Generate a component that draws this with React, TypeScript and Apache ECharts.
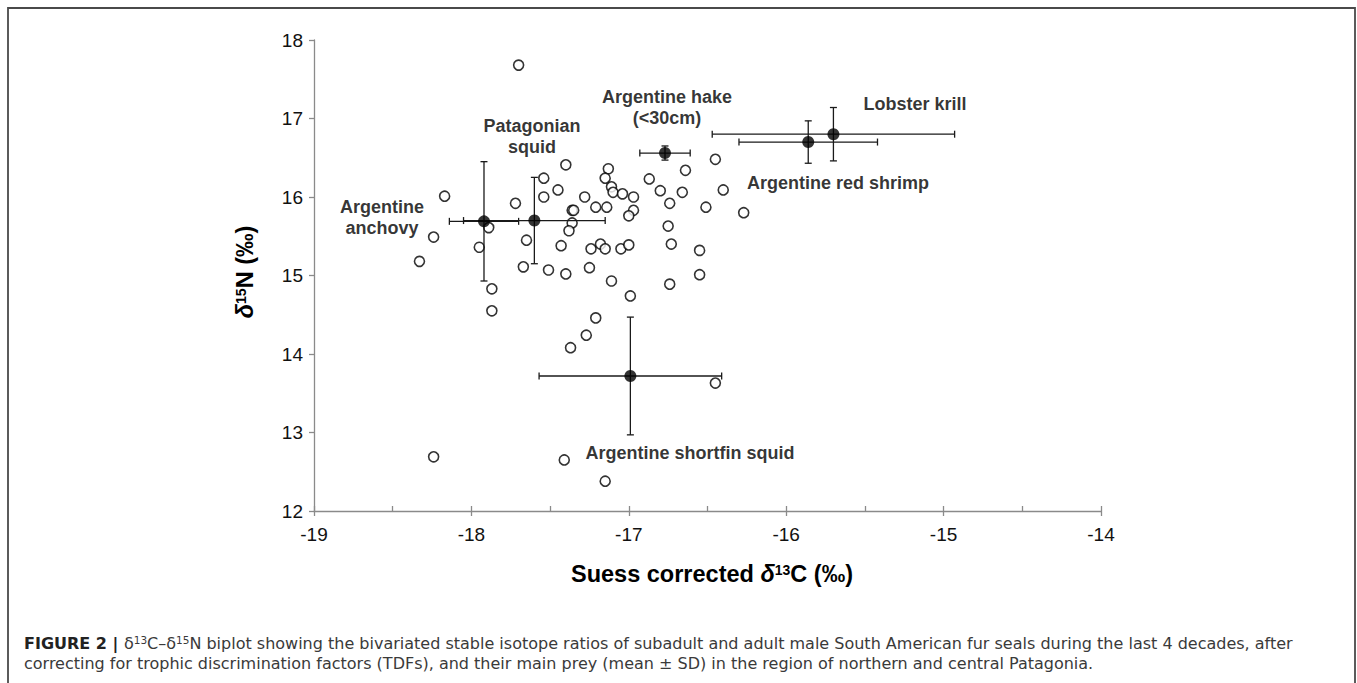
import React, { useEffect, useRef } from "react";
import * as echarts from "echarts";

// Fur seal individuals (Suess corrected δ13C, δ15N)
const sealC = [
  -17.70, -18.17, -18.24, -18.33, -17.89, -17.95, -17.87, -17.87, -17.72, -17.65,
  -17.67, -17.54, -17.54, -17.51, -17.40, -17.45, -17.43, -17.40, -17.36, -17.35,
  -17.36, -17.38, -17.28, -17.21, -17.25, -17.24, -17.18, -17.15, -17.13, -17.15,
  -17.11, -17.10, -17.14, -17.11, -17.04, -16.97, -16.97, -17.00, -17.05, -17.00,
  -16.99, -17.21, -17.27, -17.37, -16.87, -16.80, -16.74, -16.75, -16.73, -16.74,
  -16.64, -16.66, -16.51, -16.55, -16.55, -16.45, -16.40, -16.27, -16.45, -18.24,
  -17.41, -17.15,
];
const sealN = [
  17.68, 16.01, 15.49, 15.18, 15.61, 15.36, 14.83, 14.55, 15.92, 15.45,
  15.11, 16.24, 16.00, 15.07, 16.41, 16.09, 15.38, 15.02, 15.83, 15.83,
  15.67, 15.57, 16.00, 15.87, 15.10, 15.34, 15.40, 15.34, 16.36, 16.24,
  16.13, 16.06, 15.87, 14.93, 16.04, 16.00, 15.83, 15.76, 15.34, 15.39,
  14.74, 14.46, 14.24, 14.08, 16.23, 16.08, 15.92, 15.63, 15.40, 14.89,
  16.34, 16.06, 15.87, 15.32, 15.01, 16.48, 16.09, 15.80, 13.63, 12.69,
  12.65, 12.38,
];

// Prey (mean ± SD)
const preyNames = [
  "Argentine anchovy",
  "Patagonian squid",
  "Argentine hake (<30cm)",
  "Lobster krill",
  "Argentine red shrimp",
  "Argentine shortfin squid",
];
const preyC = [-17.92, -17.6, -16.77, -15.7, -15.86, -16.99];
const preyN = [15.69, 15.7, 16.56, 16.8, 16.7, 13.72];
const preySdC = [0.22, 0.45, 0.16, 0.77, 0.44, 0.58];
const preySdN = [0.76, 0.55, 0.09, 0.34, 0.27, 0.75];

// Annotation labels (anchored in data coordinates)
const labelText = [
  "Argentine\nanchovy",
  "Patagonian\nsquid",
  "Argentine hake\n(<30cm)",
  "Lobster krill",
  "Argentine red shrimp",
  "Argentine shortfin squid",
];
const labelC = [-18.568, -17.615, -16.757, -15.182, -15.671, -16.611];
const labelN = [15.745, 16.771, 17.134, 17.185, 16.178, 12.739];

const xMin = -19;
const xMax = -14;
const yMin = 12;
const yMax = 18;

const FONT = "'Liberation Sans', Arial, Helvetica, sans-serif";
const CAP_FONT = "'DejaVu Sans', 'Liberation Sans', Arial, sans-serif";

export default function App() {
  const ref = useRef<HTMLDivElement>(null);

  useEffect(() => {
    document.body.style.margin = "0";
    if (!ref.current) return;
    const chart = echarts.init(ref.current, undefined, { renderer: "svg" });
    const axisColor = "#8a8a8a";

    const titleRich = {
      b: { fontSize: 23.5, fontWeight: "bold", fontFamily: FONT, fill: "#000" },
      d: { fontSize: 23.5, fontWeight: "bold", fontStyle: "italic", fontFamily: FONT, fill: "#000" },
      s: { fontSize: 14, fontWeight: "bold", fontFamily: FONT, fill: "#000", padding: [0, 0, 9, 0] },
    };

    const option: any = {
      animation: false,
      backgroundColor: "#ffffff",
      textStyle: { fontFamily: FONT },
      grid: { left: 314, right: 256, top: 40, bottom: 172, containLabel: false },
      xAxis: [
        {
          type: "value",
          min: xMin,
          max: xMax,
          interval: 1,
          position: "bottom",
          axisLine: { show: true, onZero: false, lineStyle: { color: axisColor, width: 1.3 } },
          axisTick: { show: true, length: 5, lineStyle: { color: axisColor, width: 1.3 } },
          axisLabel: { color: "#111", fontSize: 19, margin: 14, fontFamily: FONT },
          splitLine: { show: false },
        },
        {
          type: "value",
          min: xMin,
          max: xMax,
          interval: 0.5,
          position: "bottom",
          axisLine: { show: false, onZero: false },
          axisTick: { show: true, inside: true, length: 5, lineStyle: { color: axisColor, width: 1.3 } },
          axisLabel: { show: false },
          splitLine: { show: false },
        },
      ],
      yAxis: {
        type: "value",
        min: yMin,
        max: yMax,
        interval: 1,
        axisLine: { show: true, onZero: false, lineStyle: { color: axisColor, width: 1.3 } },
        axisTick: { show: true, length: 5, lineStyle: { color: axisColor, width: 1.3 } },
        axisLabel: { color: "#111", fontSize: 19, margin: 11, fontFamily: FONT },
        splitLine: { show: false },
      },
      series: [
        {
          name: "Fur seals",
          type: "scatter",
          xAxisIndex: 0,
          data: sealC.map((c, i) => [c, sealN[i]]),
          symbol: "circle",
          symbolSize: 10,
          itemStyle: { color: "#ffffff", borderColor: "#000", borderWidth: 1.6 },
          z: 2,
        },
        {
          name: "Prey SD",
          type: "custom",
          xAxisIndex: 0,
          data: preyC.map((c, i) => [c, preyN[i], preySdC[i], preySdN[i]]),
          encode: { x: 0, y: 1 },
          renderItem: (params: any, api: any) => {
            const x = api.value(0);
            const y = api.value(1);
            const sx = api.value(2);
            const sy = api.value(3);
            const c = api.coord([x, y]);
            const l = api.coord([x - sx, y]);
            const r = api.coord([x + sx, y]);
            const t = api.coord([x, y + sy]);
            const b = api.coord([x, y - sy]);
            const cap = 3.5;
            const style = { stroke: "#1a1a1a", lineWidth: 1.3 };
            const ln = (x1: number, y1: number, x2: number, y2: number) => ({
              type: "line",
              shape: { x1, y1, x2, y2 },
              style,
            });
            return {
              type: "group",
              children: [
                ln(l[0], c[1], r[0], c[1]),
                ln(l[0], c[1] - cap, l[0], c[1] + cap),
                ln(r[0], c[1] - cap, r[0], c[1] + cap),
                ln(c[0], t[1], c[0], b[1]),
                ln(c[0] - cap, t[1], c[0] + cap, t[1]),
                ln(c[0] - cap, b[1], c[0] + cap, b[1]),
              ],
            };
          },
          z: 3,
        },
        {
          name: "Prey",
          type: "scatter",
          xAxisIndex: 0,
          data: preyC.map((c, i) => ({ name: preyNames[i], value: [c, preyN[i]] })),
          symbol: "circle",
          symbolSize: 12,
          itemStyle: { color: "#000" },
          z: 4,
        },
        {
          name: "Labels",
          type: "scatter",
          xAxisIndex: 0,
          data: labelC.map((c, i) => ({ name: labelText[i], value: [c, labelN[i]] })),
          symbolSize: 0,
          silent: true,
          label: {
            show: true,
            position: "inside",
            formatter: (p: any) => p.name,
            color: "#000",
            fontSize: 18,
            fontWeight: "bold",
            fontFamily: FONT,
            lineHeight: 21,
            align: "center",
            verticalAlign: "middle",
          },
          z: 5,
        },
      ],
      graphic: [
        {
          type: "polyline",
          shape: { points: [[8, 700], [8, 8], [1355, 8], [1355, 700]] },
          style: { stroke: "#4a4a4a", lineWidth: 1.8, fill: null },
          silent: true,
        },
        {
          type: "text",
          x: 712,
          y: 574,
          style: {
            text: "{b|Suess corrected }{d|δ}{s|13}{b|C (‰)}",
            align: "center",
            verticalAlign: "middle",
            rich: titleRich,
          },
        },
        {
          type: "text",
          x: 245,
          y: 272,
          rotation: Math.PI / 2,
          style: {
            text: "{d|δ}{s|15}{b|N (‰)}",
            align: "center",
            verticalAlign: "middle",
            rich: titleRich,
          },
        },
        {
          type: "text",
          x: 24,
          y: 643,
          style: {
            text:
              "{b|FIGURE 2 | }{r|δ}{s|13}{r|C–δ}{s|15}{r|N biplot showing the bivariated stable isotope ratios of subadult and adult male South American fur seals during the last 4 decades, after}",
            verticalAlign: "middle",
            align: "left",
            rich: {
              b: { fontSize: 16, fontWeight: "bold", fontFamily: CAP_FONT, fill: "#222" },
              r: { fontSize: 16, fontFamily: CAP_FONT, fill: "#3a3a3a" },
              s: { fontSize: 10.5, fontFamily: CAP_FONT, fill: "#3a3a3a", padding: [0, 0, 7, 0] },
            },
          },
        },
        {
          type: "text",
          x: 24,
          y: 663,
          style: {
            text:
              "correcting for trophic discrimination factors (TDFs), and their main prey (mean ± SD) in the region of northern and central Patagonia.",
            verticalAlign: "middle",
            align: "left",
            fontSize: 16,
            fontFamily: CAP_FONT,
            fill: "#3a3a3a",
          },
        },
      ],
    };

    chart.setOption(option);
    return () => {
      chart.dispose();
    };
  }, []);

  return <div ref={ref} style={{ width: 1357, height: 683 }} />;
}
